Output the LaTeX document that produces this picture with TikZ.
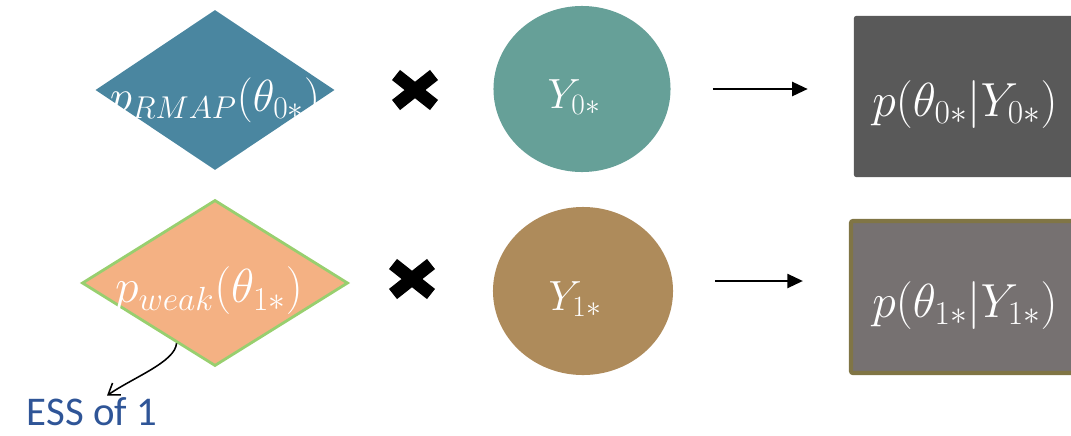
\RequirePackage{fix-cm}
\documentclass[tikz,border=0pt]{standalone}
\usepackage{amsmath}
\usepackage{fontspec}
\setsansfont{Carlito}
\usepackage{tikz}
\usetikzlibrary{arrows.meta,positioning,shapes.geometric,calc}
\definecolor{pblue}{HTML}{4A86A0}
\definecolor{pteal}{HTML}{66A098}
\definecolor{pdark}{HTML}{595959}
\definecolor{porange}{HTML}{F4B183}
\definecolor{pgreen}{HTML}{98CF6F}
\definecolor{pbrown}{HTML}{AE8B5B}
\definecolor{pgrey}{HTML}{767171}
\definecolor{polive}{HTML}{807545}
\definecolor{pink}{HTML}{000000}
\definecolor{essblue}{HTML}{2F5597}
\tikzset{
  pdiam/.style={diamond, fill=#1, draw=none, inner sep=0pt},
  ydata/.style={ellipse, fill=#1, draw=none, inner sep=0pt},
  postbox/.style={rectangle, fill=#1, rounded corners=1.5pt, inner sep=0pt},
  ptext/.style={text=white, font=\fontsize{#1}{#1}\selectfont},
  ptext/.default=32,
  flow/.style={-{Triangle[length=11pt,width=10pt]}, draw=pink,
    line width=1.4pt, shorten <=1.05cm, shorten >=1.15cm},
  crossmark/.style={draw=pink, line width=9.2pt, line cap=butt},
  esslabel/.style={text=essblue, font=\sffamily\fontsize{29}{33}\selectfont,
    inner sep=0pt},
  essflow/.style={-{Straight Barb[angle=70:9pt]}, draw=pink, line width=1.1pt},
}
\begin{document}
\begin{tikzpicture}[x=0.025cm,y=-0.025cm]
\useasboundingbox (0,0) rectangle (1071,435);

% row 0: reference prior
\node[pdiam=pblue,minimum width=5.975cm,minimum height=4cm,
  label={[ptext,yshift=-0.25cm]center:$p_{RMAP}(\theta_{0*})$}] (prior0) at (215,90) {};
\node[ydata=pteal,minimum width=4.425cm,minimum height=4.15cm,
  label={[ptext=30,xshift=-0.2cm,yshift=-0.2cm]center:$Y_{0*}$}] (data0) at (582,89) {};
\node[postbox=pdark,minimum width=5.55cm,minimum height=4.025cm,
  label={[ptext=34,yshift=-0.2cm]center:$p(\theta_{0*}|Y_{0*})$}] (post0) at (965,96.5) {};

% row 1: weak prior
\node[pdiam=porange,draw=pgreen,line width=2pt,minimum width=6.65cm,minimum height=4.15cm,
  label={[ptext=34,xshift=-0.15cm,yshift=-0.2cm]center:$p_{weak}(\theta_{1*})$}] (prior1) at (215,283) {};
\node[ydata=pbrown,minimum width=4.5cm,minimum height=4.2cm,
  label={[ptext=30,xshift=-0.2cm,yshift=-0.2cm]center:$Y_{1*}$}] (data1) at (583,291) {};
\node[postbox=pgrey,draw=polive,line width=3pt,minimum width=5.7cm,minimum height=3.8cm,
  label={[ptext=34,yshift=-0.22cm]center:$p(\theta_{1*}|Y_{1*})$}] (post1) at (965,297) {};

% times signs
\foreach \cx/\cy in {415/90, 412/279}
  \draw[crossmark] (\cx-19,\cy-15) -- (\cx+19,\cy+15)
                   (\cx-19,\cy+15) -- (\cx+19,\cy-15);

% flow
\draw[flow] (data0.east) -- (data0.east -| post0.west);
\draw[flow] ([yshift=0.25cm]data1.east) -- ([yshift=0.25cm]data1.east -| post1.west);

% note on the weak prior
\node[esslabel] (ess) at (92,412) {ESS of 1};
\draw[essflow] ($(prior1.west)!0.714!(prior1.south)$)
  .. controls (175,362) and (134,377) .. ($(ess.north)+(15,-2)$);

\end{tikzpicture}
\end{document}
